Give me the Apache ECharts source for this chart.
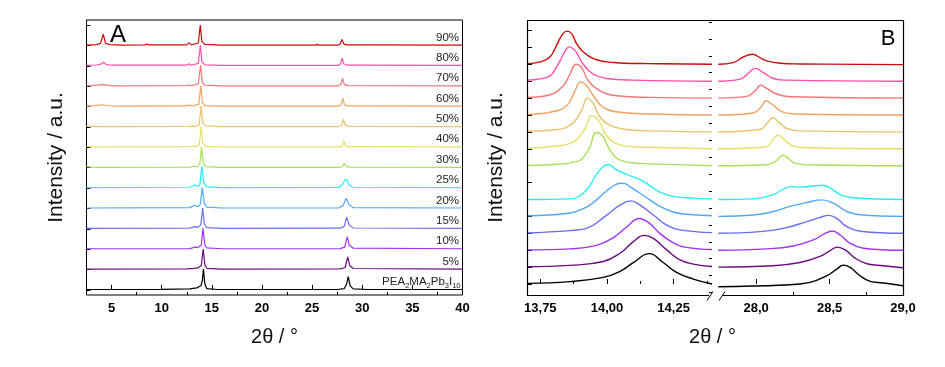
<!DOCTYPE html>
<html><head><meta charset="utf-8">
<script src="https://cdn.jsdelivr.net/npm/echarts@6.0.0/dist/echarts.min.js"></script>
<style>html,body{margin:0;padding:0;background:#fff}#main{width:945px;height:367px}</style>
</head><body><div id="main"></div>
<script>
// ---------- categories / labels ----------
const sampleLabels = ['PEA2MA2Pb3I10','5%','10%','15%','20%','25%','30%','40%','50%','60%','70%','80%','90%'];
const sampleColors = ['#000000','#6a0c7c','#a033f5','#6a6cf2','#52a8f7','#24ecfa','#a8e05a','#e4e266','#e8c46c','#f4a160','#f47676','#ff4fa8','#cc0a0a'];
const offsetsA = [0,1,2,3,4,5,6,7,8,9,10,11,12];
const offsetsB = [0,1,2,3,4,5,7,8,9,10,11,12,13];

// ---------- tick values ----------
const ticksAxA = [5,10,15,20,25,30,35,40];
const minorAxA = [2.5,7.5,12.5,17.5,22.5,27.5,32.5,37.5];
const ticksAy = [0,1,2,3,4,5,6,7,8,9,10,11,12,13];
const ticksB1x = [13.75,14.00,14.25];
const minorB1x = [13.875,14.125,14.375];
const ticksB2x = [28.0,28.5,29.0];
const minorB2x = [28.25,28.75];
const ticksBy = [0,1,2,3,4,5,6,7,8,9,10,11,12,13,14,15];
const minorBy = [-0.5,0.5,1.5,2.5,3.5,4.5,5.5,6.5,7.5,8.5,9.5,10.5,11.5,12.5,13.5,14.5,15.5];

// ---------- panel A data [2theta, intensity] ----------
const A_0  = [[2.5,0.02],[10,0.03],[12.8,0.05],[13.5,0.1],[13.9,0.2],[14.05,0.45],[14.16,1.02],[14.3,0.3],[14.5,0.06],[15.5,0.02],[27.5,0.02],[28.2,0.06],[28.45,0.3],[28.6,0.65],[28.8,0.2],[29.1,0.05],[30.5,0.02],[40,0.02]];
const A_5  = [[2.5,0.02],[12.5,0.03],[13.2,0.06],[13.6,0.08],[13.95,0.2],[14.14,1.0],[14.3,0.25],[14.5,0.06],[16,0.02],[27.8,0.03],[28.3,0.1],[28.55,0.62],[28.75,0.2],[29.1,0.05],[40,0.02]];
const A_10 = [[2.5,0.02],[12.8,0.03],[13.35,0.1],[13.6,0.08],[13.95,0.2],[14.12,1.02],[14.3,0.22],[14.5,0.06],[16,0.02],[27.8,0.03],[28.25,0.1],[28.5,0.6],[28.7,0.2],[29.1,0.05],[40,0.02]];
const A_15 = [[2.5,0.02],[12.8,0.03],[13.35,0.11],[13.6,0.07],[13.9,0.2],[14.09,1.02],[14.25,0.25],[14.5,0.06],[16,0.02],[27.8,0.03],[28.2,0.12],[28.45,0.57],[28.7,0.18],[29.1,0.04],[40,0.02]];
const A_20 = [[2.5,0.02],[12.8,0.04],[13.3,0.16],[13.6,0.08],[13.85,0.2],[14.05,1.02],[14.25,0.25],[14.5,0.06],[16,0.02],[27.7,0.03],[28.1,0.15],[28.4,0.5],[28.7,0.18],[29.1,0.04],[40,0.02]];
const A_25 = [[2.5,0.02],[12.8,0.04],[13.3,0.16],[13.55,0.07],[13.8,0.15],[14.0,1.05],[14.2,0.25],[14.5,0.06],[16,0.02],[27.7,0.03],[28.05,0.2],[28.25,0.4],[28.45,0.42],[28.7,0.15],[29.1,0.04],[40,0.02]];
const A_30 = [[2.5,0.05],[3.5,0.02],[12.8,0.03],[13.2,0.07],[13.5,0.04],[13.8,0.15],[13.96,1.0],[14.15,0.2],[14.4,0.05],[16,0.02],[27.8,0.02],[28.05,0.06],[28.2,0.22],[28.35,0.08],[28.7,0.03],[40,0.02]];
const A_40 = [[2.5,0.05],[3.5,0.02],[12.8,0.03],[13.1,0.06],[13.4,0.03],[13.75,0.12],[13.94,1.02],[14.1,0.2],[14.4,0.05],[16,0.02],[27.8,0.02],[28.0,0.07],[28.15,0.33],[28.3,0.1],[28.6,0.03],[40,0.02]];
const A_50 = [[2.5,0.05],[3.5,0.02],[12.8,0.03],[13.1,0.05],[13.4,0.03],[13.75,0.12],[13.93,1.02],[14.1,0.2],[14.4,0.05],[16,0.02],[27.7,0.02],[27.95,0.08],[28.12,0.4],[28.28,0.1],[28.6,0.03],[40,0.02]];
const A_60 = [[2.5,0.02],[3.3,0.05],[4.0,0.09],[4.7,0.04],[5.5,0.02],[12.5,0.03],[12.75,0.07],[13.0,0.03],[13.7,0.12],[13.9,1.02],[14.05,0.2],[14.3,0.05],[16,0.02],[27.6,0.02],[27.9,0.08],[28.07,0.42],[28.22,0.1],[28.5,0.03],[40,0.02]];
const A_70 = [[2.5,0.02],[3.3,0.04],[4.0,0.08],[4.8,0.04],[5.5,0.02],[12.5,0.03],[12.75,0.06],[13.0,0.03],[13.65,0.12],[13.88,1.02],[14.05,0.2],[14.3,0.05],[16,0.02],[27.6,0.02],[27.85,0.08],[28.03,0.38],[28.2,0.1],[28.5,0.03],[40,0.02]];
const A_80 = [[2.5,0.02],[3.5,0.04],[4.0,0.1],[4.2,0.18],[4.5,0.06],[5.0,0.03],[8.5,0.03],[12.5,0.03],[12.73,0.1],[12.95,0.03],[13.65,0.12],[13.86,1.02],[14.0,0.2],[14.3,0.05],[16,0.02],[27.6,0.02],[27.82,0.08],[28.0,0.38],[28.15,0.1],[28.5,0.03],[40,0.02]];
const A_90 = [[2.5,0.02],[3.5,0.04],[3.9,0.1],[4.17,0.55],[4.4,0.1],[4.8,0.04],[6,0.02],[8.3,0.03],[8.5,0.07],[8.7,0.03],[12.5,0.03],[12.73,0.14],[12.95,0.03],[13.65,0.12],[13.85,1.0],[14.0,0.2],[14.3,0.05],[16,0.02],[25.3,0.02],[25.5,0.05],[25.7,0.02],[27.6,0.02],[27.8,0.07],[27.98,0.3],[28.15,0.08],[28.5,0.03],[30.5,0.03],[40,0.02]];

// ---------- panel B data, low-angle window ----------
const BL_0  = [[13.70,0.04],[13.861,0.14],[13.986,0.39],[14.049,0.75],[14.099,1.27],[14.159,1.8],[14.211,1.27],[14.261,0.69],[14.324,0.29],[14.394,0.0]];
const BL_5  = [[13.70,0.02],[13.861,0.1],[13.986,0.33],[14.049,0.82],[14.099,1.51],[14.139,1.88],[14.174,1.7],[14.224,1.02],[14.274,0.43],[14.324,0.18],[14.394,0.04]];
const BL_10 = [[13.70,0.02],[13.861,0.08],[13.961,0.29],[14.024,0.75],[14.074,1.37],[14.121,1.88],[14.161,1.57],[14.199,0.98],[14.243,0.49],[14.286,0.2],[14.394,0.04]];
const BL_15 = [[13.70,0.02],[13.861,0.16],[13.923,0.29],[13.999,1.08],[14.049,1.67],[14.09,1.92],[14.124,1.67],[14.174,1.08],[14.224,0.49],[14.274,0.2],[14.394,0.04]];
const BL_20 = [[13.70,0.04],[13.861,0.2],[13.923,0.55],[13.961,0.98],[13.996,1.47],[14.024,1.8],[14.049,1.96],[14.068,1.94],[14.086,1.76],[14.124,1.37],[14.161,0.98],[14.199,0.59],[14.243,0.29],[14.286,0.14],[14.394,0.04]];
const BL_25 = [[13.70,0.0],[13.861,0.04],[13.923,0.55],[13.961,1.5],[13.99,2.0],[14.005,2.06],[14.036,1.76],[14.086,1.41],[14.124,1.18],[14.161,0.82],[14.199,0.43],[14.243,0.2],[14.324,0.08],[14.394,0.04]];
const BL_30 = [[13.70,0.02],[13.786,0.06],[13.886,0.24],[13.93,0.92],[13.961,1.96],[13.986,1.71],[14.011,0.92],[14.049,0.33],[14.124,0.14],[14.224,0.08],[14.394,0.0]];
const BL_40 = [[13.70,0.04],[13.786,0.12],[13.874,0.41],[13.918,1.2],[13.943,1.96],[13.968,1.69],[13.993,0.9],[14.03,0.35],[14.099,0.12],[14.224,0.06],[14.394,0.0]];
const BL_50 = [[13.70,0.04],[13.786,0.1],[13.861,0.39],[13.905,1.27],[13.926,2.0],[13.949,1.67],[13.974,0.88],[14.011,0.39],[14.074,0.14],[14.16,0.06],[14.394,0.0]];
const BL_60 = [[13.70,0.04],[13.786,0.16],[13.849,0.55],[13.88,1.43],[13.901,1.96],[13.924,1.73],[13.949,1.14],[13.986,0.45],[14.049,0.16],[14.16,0.06],[14.394,0.0]];
const BL_70 = [[13.70,0.04],[13.786,0.2],[13.836,0.73],[13.861,1.41],[13.884,2.0],[13.905,1.8],[13.93,1.02],[13.974,0.43],[14.036,0.14],[14.16,0.04],[14.394,0.0]];
const BL_80 = [[13.70,0.06],[13.75,0.14],[13.786,0.31],[13.805,0.7],[13.824,1.2],[13.842,1.75],[13.859,2.03],[13.874,1.9],[13.886,1.69],[13.911,1.0],[13.949,0.41],[13.999,0.16],[14.1,0.06],[14.394,0.0]];
const BL_90 = [[13.70,0.04],[13.75,0.14],[13.786,0.43],[13.811,1.12],[13.83,1.7],[13.849,1.96],[13.868,1.8],[13.886,1.22],[13.911,0.73],[13.949,0.33],[13.999,0.14],[14.049,0.08],[14.15,0.04],[14.394,0.0]];

// ---------- panel B data, high-angle window ----------
const BR_0  = [[27.742,-0.16],[28.185,-0.06],[28.367,0.1],[28.481,0.49],[28.549,0.88],[28.594,1.12],[28.64,0.98],[28.708,0.49],[28.776,0.16],[28.867,0.06],[29.0,-0.1]];
const BR_5  = [[27.742,0],[28.117,0.08],[28.299,0.27],[28.435,0.63],[28.503,0.98],[28.553,1.18],[28.606,1.02],[28.674,0.53],[28.754,0.2],[28.867,0.08],[29.0,-0.04]];
const BR_10 = [[27.742,0],[28.072,0.08],[28.253,0.25],[28.39,0.61],[28.469,1.0],[28.519,1.14],[28.572,0.9],[28.64,0.41],[28.73,0.12],[29.0,0]];
const BR_15 = [[27.742,0],[28.026,0.1],[28.185,0.29],[28.345,0.69],[28.435,0.94],[28.492,1.06],[28.549,0.88],[28.617,0.39],[28.708,0.12],[29.0,0]];
const BR_20 = [[27.742,0],[27.981,0.08],[28.117,0.29],[28.231,0.59],[28.345,0.82],[28.447,0.98],[28.526,0.78],[28.617,0.29],[28.708,0.1],[29.0,0]];
const BR_25 = [[27.742,0],[27.981,0.04],[28.117,0.29],[28.185,0.62],[28.24,0.76],[28.3,0.73],[28.37,0.78],[28.45,0.84],[28.503,0.69],[28.572,0.29],[28.662,0.1],[29.0,0]];
const BR_30 = [[27.742,0],[28.072,0.06],[28.129,0.24],[28.163,0.53],[28.185,0.61],[28.219,0.43],[28.265,0.14],[28.413,0.04],[29.0,0]];
const BR_40 = [[27.742,0],[28.072,0.12],[28.106,0.45],[28.151,0.8],[28.197,0.51],[28.253,0.16],[28.367,0.06],[29.0,0]];
const BR_50 = [[27.742,0],[28.026,0.14],[28.072,0.49],[28.113,0.84],[28.151,0.59],[28.208,0.2],[28.299,0.06],[29.0,0]];
const BR_60 = [[27.742,0],[27.981,0.12],[28.031,0.45],[28.067,0.84],[28.106,0.65],[28.174,0.2],[28.276,0.06],[29.0,0]];
const BR_70 = [[27.742,0],[27.935,0.1],[27.992,0.43],[28.031,0.76],[28.072,0.57],[28.14,0.24],[28.231,0.08],[29.0,0]];
const BR_80 = [[27.742,0],[27.89,0.12],[27.947,0.47],[27.992,0.76],[28.049,0.51],[28.117,0.16],[28.208,0.06],[29.0,0]];
const BR_90 = [[27.742,0],[27.844,0.1],[27.912,0.43],[27.976,0.59],[28.026,0.39],[28.072,0.2],[28.163,0.06],[28.299,0.02],[29.0,-0.02]];

const curvesA = [A_0,A_5,A_10,A_15,A_20,A_25,A_30,A_40,A_50,A_60,A_70,A_80,A_90];
const curvesBL = [BL_0,BL_5,BL_10,BL_15,BL_20,BL_25,BL_30,BL_40,BL_50,BL_60,BL_70,BL_80,BL_90];
const curvesBR = [BR_0,BR_5,BR_10,BR_15,BR_20,BR_25,BR_30,BR_40,BR_50,BR_60,BR_70,BR_80,BR_90];

// ---------- layout ----------
const GA  = {left: 86.5, top: 20, width: 376, height: 275};
const GB1 = {left: 527, top: 20, width: 185, height: 275};
const GB2 = {left: 718, top: 20, width: 185, height: 275};
const tickFont = {fontFamily: 'Liberation Sans', fontWeight: 'bold', fontSize: 13, color: '#000'};
const titleFont = 'Liberation Sans';

const chart = echarts.init(document.getElementById('main'), null, {renderer: 'canvas'});

function xAx(grid, min, max, major, minor, fmt, showLabel) {
  return {
    type: 'value', gridIndex: grid, min: min, max: max, position: 'bottom',
    axisLine: {show: false},
    splitLine: {show: false},
    axisTick: {show: true, inside: true, length: minor ? 3 : 5, lineStyle: {color: '#000', width: 1}, customValues: minor || major},
    axisLabel: showLabel ? Object.assign({show: true, margin: 7, customValues: major, formatter: fmt}, tickFont) : {show: false}
  };
}
function yAx(grid, min, max, ticks, len, show) {
  return {
    type: 'value', gridIndex: grid, min: min, max: max,
    axisLine: {show: false}, splitLine: {show: false},
    axisTick: {show: show, inside: true, length: len, lineStyle: {color: '#000', width: 1}, customValues: ticks},
    axisLabel: {show: false}
  };
}

const series = [];
function addLine(pts, off, color, xi, yi, smooth, width) {
  series.push({
    type: 'line', xAxisIndex: xi, yAxisIndex: yi,
    data: pts.map(p => [p[0], p[1] + off]),
    showSymbol: false, symbol: 'none', silent: true, animation: false,
    smooth: smooth,
    lineStyle: {color: color, width: width}, itemStyle: {color: color}
  });
}
for (let i = 0; i < curvesA.length; i++) {
  addLine(curvesA[i], offsetsA[i], sampleColors[i], 0, 0, false, 1.2);
  addLine(curvesBL[i], offsetsB[i], sampleColors[i], 2, 1, 0.45, 1.4);
  addLine(curvesBR[i], offsetsB[i], sampleColors[i], 4, 3, 0.45, 1.4);
}

const fmtB1 = v => v.toFixed(2).replace('.', ',');
const fmtB2 = v => v.toFixed(1).replace('.', ',');

chart.setOption({
  animation: false,
  backgroundColor: '#fff',
  grid: [
    Object.assign({show: true, borderColor: '#000', borderWidth: 1, backgroundColor: 'transparent'}, GA),
    Object.assign({show: false}, GB1),
    Object.assign({show: false}, GB2)
  ],
  xAxis: [
    Object.assign(xAx(0, 2.5, 40, ticksAxA, null, v => String(v), true), {name: '2θ / °', nameLocation: 'middle', nameGap: 32, nameTextStyle: {fontFamily: titleFont, fontSize: 20, color: '#111'}}),
    xAx(0, 2.5, 40, ticksAxA, minorAxA, null, false),
    xAx(1, 13.7, 14.394, ticksB1x, null, fmtB1, true),
    xAx(1, 13.7, 14.394, ticksB1x, minorB1x, null, false),
    xAx(2, 27.74, 29.0, ticksB2x, null, fmtB2, true),
    xAx(2, 27.74, 29.0, ticksB2x, minorB2x, null, false)
  ],
  yAxis: [
    Object.assign(yAx(0, -0.25, 13.25, ticksAy, 4, true), {name: 'Intensity / a.u.', nameLocation: 'middle', nameGap: 20, nameRotate: 90, nameTextStyle: {fontFamily: 'Liberation Sans', fontSize: 21, color: '#111'}}),
    Object.assign(yAx(1, -0.65, 15.62, ticksBy, 5, true), {name: 'Intensity / a.u.', nameLocation: 'middle', nameGap: 20, nameRotate: 90, nameTextStyle: {fontFamily: 'Liberation Sans', fontSize: 21, color: '#111'}}),
    yAx(1, -0.65, 15.62, minorBy, 3, true),
    yAx(2, -0.65, 15.62, ticksBy, 0, false)
  ],
  series: series
});

// ---------- annotations ----------
const graphics = [];
const fl = GB1.left + 0.5, fr = GB2.left + GB2.width + 0.5, ft = GB1.top + 0.5, fb = GB1.top + GB1.height + 0.5;
const gapL = GB1.left + GB1.width - 2, gapR = GB2.left + 4;
const frameStroke = {stroke: '#000000', lineWidth: 1.2};
// panel B frame, drawn as a polyline open at the axis break
graphics.push({type: 'polyline', z: 40, silent: true, shape: {points: [[gapL - 1, fb], [fl, fb], [fl, ft], [fr, ft], [fr, fb], [gapR + 1, fb]]}, style: Object.assign({fill: null}, frameStroke)});
graphics.push({type: 'line', z: 41, silent: true, shape: {x1: gapL - 3, y1: fb + 5, x2: gapL + 3, y2: fb - 4}, style: {stroke: '#000', lineWidth: 1}});
graphics.push({type: 'line', z: 41, silent: true, shape: {x1: gapR - 3, y1: fb + 5, x2: gapR + 3, y2: fb - 4}, style: {stroke: '#000', lineWidth: 1}});
// B axis title
graphics.push({type: 'text', z: 50, silent: true, style: {text: '2θ / °', x: (fl + fr) / 2 - 3, y: fb + 42, align: 'center', verticalAlign: 'middle', font: '20px "' + titleFont + '"', fill: '#111'}});
// panel letters
graphics.push({type: 'text', z: 50, silent: true, style: {text: 'A', x: 110, y: 35, align: 'left', verticalAlign: 'middle', font: '24px "Liberation Sans"', fill: '#000'}});
graphics.push({type: 'text', z: 50, silent: true, style: {text: 'B', x: 888, y: 39, align: 'center', verticalAlign: 'middle', font: '22px "Liberation Sans"', fill: '#000'}});
// sample labels in panel A
for (let i = 0; i < sampleLabels.length; i++) {
  const p = chart.convertToPixel({xAxisIndex: 0, yAxisIndex: 0}, [40, offsetsA[i]]);
  if (i === 0) {
    graphics.push({type: 'text', z: 50, silent: true, style: {
      text: '{n|PEA}{s|2}{n|MA}{s|2}{n|Pb}{s|3}{n|I}{s|10}', x: p[0] - 2, y: p[1] - 17, align: 'right', verticalAlign: 'top',
      rich: {n: {fontSize: 11.5, fontFamily: 'Liberation Sans', fill: '#222', lineHeight: 17},
             s: {fontSize: 7.5, fontFamily: 'Liberation Sans', fill: '#222', lineHeight: 10, verticalAlign: 'bottom'}}
    }});
  } else {
    graphics.push({type: 'text', z: 50, silent: true, style: {text: sampleLabels[i], x: p[0] - 3.5, y: p[1] - 2, align: 'right', verticalAlign: 'bottom', font: '11.5px "Liberation Sans"', fill: '#222'}});
  }
}
chart.setOption({graphic: graphics});
</script></body></html>
